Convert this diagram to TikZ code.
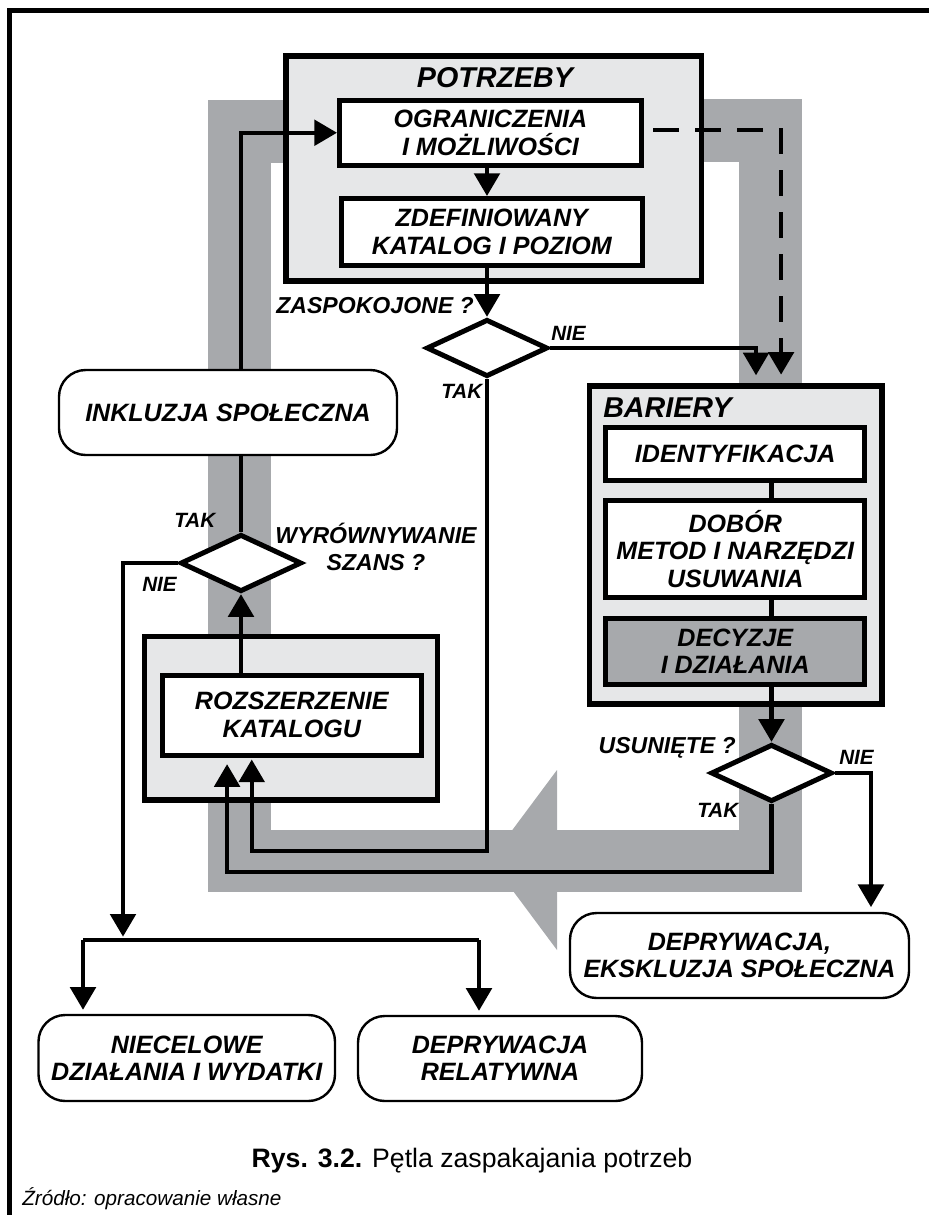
\documentclass[tikz,border=0pt]{standalone}
\usepackage{fontspec}
\setmainfont{Liberation Sans}
\usetikzlibrary{arrows.meta,shapes.geometric}
\definecolor{band}{HTML}{A7A9AC}
\definecolor{light}{HTML}{E6E7E8}
\newcommand\boxfont{\fontsize{18.8pt}{20.5pt}\selectfont\bfseries\itshape}
\newcommand\qfont{\fontsize{17.3pt}{20.5pt}\selectfont\bfseries\itshape}
\newcommand\ttlfont{\fontsize{21.5pt}{23pt}\selectfont\bfseries\itshape}
\newcommand\labfont{\fontsize{15.5pt}{17pt}\selectfont\bfseries\itshape}
\tikzset{
  conn/.style={line width=3.2pt, -{Triangle[length=17pt,width=19pt]}},
  plainline/.style={line width=3.2pt},
  dashconn/.style={line width=3.4pt, dash pattern=on 19.5pt off 12pt, -{Triangle[length=17pt,width=19pt]}},
  box/.style={draw, line width=3.75pt, fill=white, inner sep=0pt, align=center, font=\boxfont},
  grp/.style={draw, line width=4pt, fill=light, inner sep=0pt},
  rbox/.style={draw, line width=1.8pt, fill=white, rounded corners=20pt, inner sep=0pt, align=center, font=\boxfont},
  dia/.style={draw, diamond, line width=3.75pt, fill=white, inner sep=0pt, minimum width=91pt, minimum height=43pt},
  lab/.style={font=\labfont, inner sep=0pt},
  qlab/.style={font=\qfont, inner sep=0pt, align=center},
  ttl/.style={font=\ttlfont, inner sep=0pt},
}
\begin{document}
\begin{tikzpicture}[x=0.75pt,y=-0.75pt]
\useasboundingbox (0,0) rectangle (929,1215);
% frame
\draw[line width=3.75pt] (929,10.5) -- (9.5,10.5) -- (9.5,1215);
% gray loop band
\fill[band] (208,100) rectangle (290,163);
\fill[band] (208,100) rectangle (271,890);
\fill[band] (208,830) rectangle (802,892);
\fill[band] (739,99) rectangle (802,892);
\fill[band] (698,99) rectangle (802,162);
\fill[band] (557,770) -- (557,950) -- (490,860) -- cycle;
% group boxes
\node[grp, minimum width=311.6pt, minimum height=168.75pt] (potrz) at (493.75,168.5) {};
\node[grp, minimum width=219.4pt, minimum height=238.5pt] (bar) at (735.75,545) {};
\node[grp, minimum width=219.75pt, minimum height=122.6pt] (rozg) at (291,718.25) {};
\node[ttl, anchor=base] (potrzt) at (495,87) {POTRZEBY};
\node[ttl, anchor=base west] (bart) at (603,417) {BARIERY};
% boxes
\node[box, minimum width=226.5pt, minimum height=48.4pt] (ogr) at (490.5,132.75) {OGRANICZENIA\\I MOŻLIWOŚCI};
\node[box, minimum width=225.4pt, minimum height=49.9pt] (zdef) at (491.75,231.75) {ZDEFINIOWANY\\KATALOG I POZIOM};
\node[box, minimum width=194.6pt, minimum height=40.1pt] (ident) at (735.25,453.75) {IDENTYFIKACJA};
\node[box, minimum width=194.6pt, minimum height=72.4pt] (dobor) at (735.25,548.75) {DOBÓR\\METOD I NARZĘDZI\\USUWANIA};
\node[box, fill=band, minimum width=194.6pt, minimum height=49.5pt] (decyz) at (735.25,651.5) {DECYZJE\\I DZIAŁANIA};
\node[box, minimum width=193.9pt, minimum height=60pt] (roz) at (291.75,715) {ROZSZERZENIE\\KATALOGU};
% rounded boxes
\node[rbox, minimum width=253.5pt, minimum height=63.75pt] (inkl) at (228,412.5) {INKLUZJA SPOŁECZNA};
\node[rbox, minimum width=254.25pt, minimum height=63.75pt] (deks) at (739.5,955.5) {DEPRYWACJA,\\EKSKLUZJA SPOŁECZNA};
\node[rbox, minimum width=222.4pt, minimum height=64.5pt] (niec) at (186.75,1058) {NIECELOWE\\DZIAŁANIA I WYDATKI};
\node[rbox, minimum width=213pt, minimum height=63.75pt] (drel) at (500,1058.5) {DEPRYWACJA\\RELATYWNA};
% diamonds
\node[dia] (zasp) at (487,348) {};
\node[dia] (usun) at (771.5,773) {};
\node[dia] (wyr) at (241,563) {};
% question labels
\node[qlab, anchor=base east] (zaspq) at (474,313) {ZASPOKOJONE ?};
\node[qlab, anchor=base east] (usunq) at (736,753) {USUNIĘTE ?};
\node[qlab] (wyrq) at (376,547) {WYRÓWNYWANIE\\SZANS ?};
% yes/no labels
\node[lab, anchor=base west] (zaspn) at (551,340) {NIE};
\node[lab, anchor=base west] (zaspt) at (441,398) {TAK};
\node[lab, anchor=base west] (usunn) at (839,764) {NIE};
\node[lab, anchor=base west] (usunt) at (697,817) {TAK};
\node[lab, anchor=base west] (wyrt) at (174,527) {TAK};
\node[lab, anchor=base west] (wyrn) at (142,591) {NIE};
% branch points
\coordinate (br) at (123,940);
\coordinate (brl) at (83,940);
\coordinate (brr) at (479,940);
% connectors
\draw[conn] (ogr.south -| zasp.north) -- (zdef.north -| zasp.north);
\draw[conn] (zdef.south -| zasp.north) -- (zasp.north);
\draw[conn] (zasp.east) -| ([xshift=15.2pt,yshift=6pt]bar.north);
\draw[dashconn] ([yshift=2pt,xshift=7pt]ogr.east) -| ([xshift=34pt,yshift=6.5pt]bar.north);
\draw[plainline] (ident.south -| usun.north) -- (dobor.north -| usun.north);
\draw[plainline] (dobor.south -| usun.north) -- (decyz.north -| usun.north);
\draw[conn] (decyz.south -| usun.north) -- (usun.north);
\draw[conn] (usun.east) -| ([xshift=98.6pt,yshift=3.5pt]deks.north);
\draw[conn] (usun.south) |- (565,872) -| ([xshift=-48.5pt,yshift=-5pt]roz.south);
\draw[conn] (zasp.south) |- (400,851) -| ([xshift=-30pt,yshift=-1.5pt]roz.south);
\draw[conn] (roz.north -| wyr.south) -- (wyr.south);
\draw[plainline] (wyr.north) -- (wyr.north |- inkl.south);
\draw[conn] (wyr.north |- inkl.north) |- (ogr.west);
\draw[conn, shorten >=2.5pt] (wyr.west) -| (br);
\draw[line width=3.2pt] (brl) -- (brr);
\draw[conn, shorten >=3pt] (brl) -- (brl |- niec.north);
\draw[conn, shorten >=3pt] (brr) -- (brr |- drel.north);
% caption
\node[font=\fontsize{20pt}{22pt}\selectfont, anchor=base, inner sep=0pt] (cap) at (472,1167) {\textbf{Rys. 3.2.} Pętla zaspakajania potrzeb};
\node[font=\fontsize{15.5pt}{17pt}\selectfont\itshape, anchor=base west, inner sep=0pt] (src) at (22,1205) {Źródło: opracowanie własne};
\end{tikzpicture}
\end{document}
